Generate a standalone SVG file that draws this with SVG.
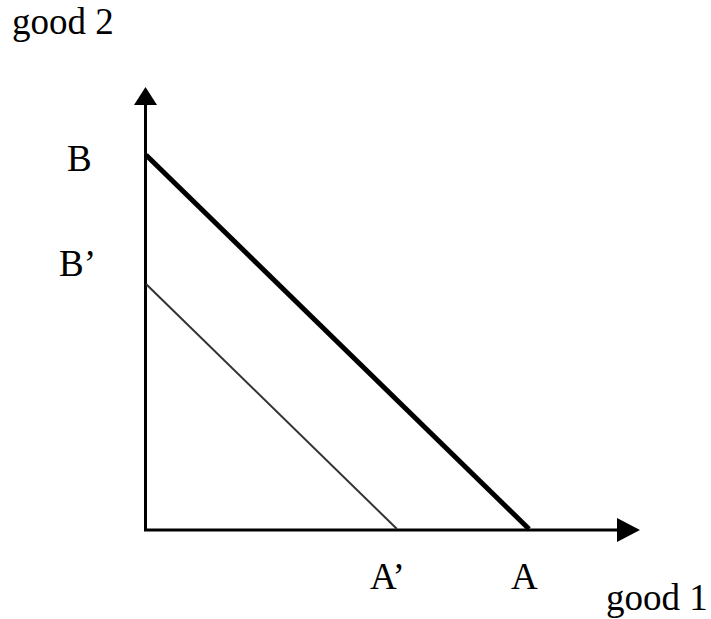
<svg xmlns="http://www.w3.org/2000/svg" width="711" height="619" viewBox="0 0 711 619">
<style>
text{font-family:"Liberation Serif","Times New Roman",serif;font-size:37px;fill:#000}
.axis{stroke:#000;fill:none}
</style>
<rect width="711" height="619" fill="#fff"/>
<g id="connectors">
<line class="axis" x1="145.5" y1="100" x2="145.5" y2="530" stroke-width="3" stroke="#333"/>
<polygon points="145.5,87 134,105 157,105" fill="#000"/>
<line class="axis" x1="144" y1="530" x2="620" y2="530" stroke-width="3"/>
<polygon points="640,530 617,518 617,542" fill="#000"/>
<line id="budget-AB" x1="146" y1="155" x2="529" y2="529" stroke="#000" stroke-width="5"/>
<line id="budget-A2B2" x1="146" y1="284" x2="397" y2="529" stroke="#333" stroke-width="2"/>
</g>
<g id="labels">
<text x="12" y="34">good 2</text>
<text x="67" y="171">B</text>
<text x="59" y="276">B’</text>
<text x="370" y="589">A’</text>
<text x="511" y="589">A</text>
<text x="606" y="610">good 1</text>
</g>
</svg>
